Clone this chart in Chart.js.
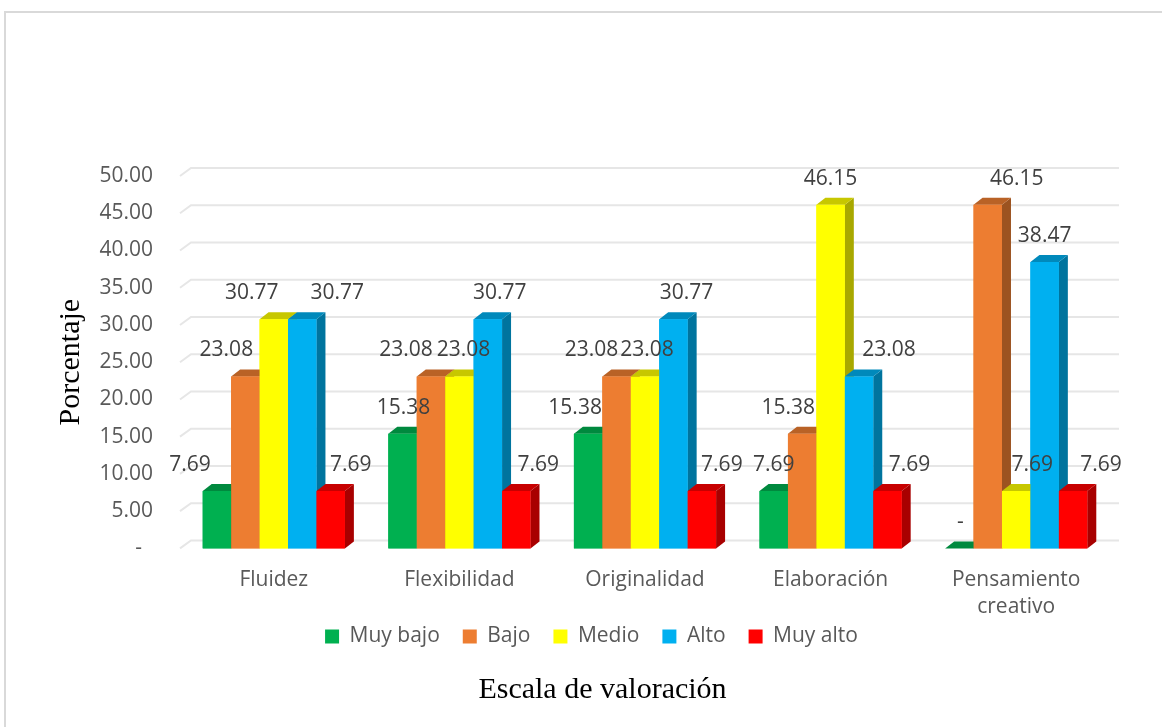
<!DOCTYPE html>
<html>
<head>
<meta charset="utf-8">
<script src="https://cdn.jsdelivr.net/npm/chart.js@4.4.1/dist/chart.umd.min.js"></script>
<style>
  html, body { margin: 0; padding: 0; background: #fff; overflow: hidden; }
  .marco { position: absolute; left: 4px; top: 11px; width: 1180px; height: 740px; border: 2px solid #d9d9d9; }
  #grafico { position: absolute; left: 0; top: 0; }
</style>
</head>
<body>
<div class="marco"></div>
<canvas id="grafico" width="1162" height="727"></canvas>
<script>
// datos
const categorias = ['Fluidez', 'Flexibilidad', 'Originalidad', 'Elaboración', ['Pensamiento', 'creativo']];
const series = ['Muy bajo', 'Bajo', 'Medio', 'Alto', 'Muy alto'];
const muyBajo = [7.69, 15.38, 15.38, 7.69, 0];
const bajo = [23.08, 23.08, 23.08, 15.38, 46.15];
const medio = [30.77, 23.08, 23.08, 46.15, 7.69];
const alto = [30.77, 30.77, 30.77, 23.08, 38.47];
const muyAlto = [7.69, 7.69, 7.69, 7.69, 7.69];
const marcasY = [0, 5, 10, 15, 20, 25, 30, 35, 40, 45, 50];

const colores = ['#00B050', '#ED7D31', '#FFFF00', '#00B0F0', '#FF0000'];
const valores = [muyBajo, bajo, medio, alto, muyAlto];

const PROF_X = 9, PROF_Y = 7;
// corrimiento horizontal de cada etiqueta respecto a su barra (como en el original)
const corrEtiqueta = [
    [-27, 1, -13, 0, 1],
    [-19, -25, -25, -14, 29],
    [-22, 4, 2, 0, 16],
    [35, 12, 13, 30, 0],
    [20, 22, 20, 22, 28]
];

function oscurecer(hex, f) {
    const n = parseInt(hex.slice(1), 16);
    const r = Math.round(((n >> 16) & 255) * f);
    const g = Math.round(((n >> 8) & 255) * f);
    const b = Math.round((n & 255) * f);
    return `rgb(${r}, ${g}, ${b})`;
}

function formato(v) {
    return v === 0 ? '-' : v.toFixed(2);
}

// líneas de división en la pared del fondo
const rejilla = {
    id: 'rejilla',
    beforeDatasetsDraw(chart) {
        const ctx = chart.ctx;
        const ys = chart.scales.y;
        const { left, right } = chart.chartArea;
        ctx.save();
        ctx.strokeStyle = '#e6e6e6';
        ctx.lineWidth = 2;
        ys.ticks.forEach(t => {
            const py = ys.getPixelForValue(t.value);
            ctx.beginPath();
            ctx.moveTo(left - 1, py);
            ctx.lineTo(left + 10, py - 8);
            ctx.lineTo(right + 10, py - 8);
            ctx.stroke();
        });
        ctx.restore();
    }
};

// caras laterales y superiores de las barras + etiquetas
const barras3d = {
    id: 'barras3d',
    afterDatasetsDraw(chart) {
        const ctx = chart.ctx;
        ctx.save();
        chart.data.datasets.forEach((ds, i) => {
            const meta = chart.getDatasetMeta(i);
            meta.data.forEach(bar => {
                const { x, y, base, width } = bar.getProps(['x', 'y', 'base', 'width'], true);
                const l = x - width / 2, r = x + width / 2;
                ctx.fillStyle = oscurecer(ds.backgroundColor, 0.66);
                ctx.beginPath();
                ctx.moveTo(r, y);
                ctx.lineTo(r + PROF_X, y - PROF_Y);
                ctx.lineTo(r + PROF_X, base - PROF_Y);
                ctx.lineTo(r, base);
                ctx.closePath();
                ctx.fill();
                ctx.fillStyle = oscurecer(ds.backgroundColor, 0.78);
                ctx.beginPath();
                ctx.moveTo(l, y);
                ctx.lineTo(l + PROF_X, y - PROF_Y);
                ctx.lineTo(r + PROF_X, y - PROF_Y);
                ctx.lineTo(r, y);
                ctx.closePath();
                ctx.fill();
                bar.draw(ctx);
            });
        });
        ctx.font = '21px "Open Sans"';
        ctx.fillStyle = '#404040';
        ctx.textAlign = 'center';
        ctx.textBaseline = 'middle';
        chart.data.datasets.forEach((ds, i) => {
            chart.getDatasetMeta(i).data.forEach((bar, j) => {
                ctx.fillText(formato(ds.data[j]), bar.x + corrEtiqueta[i][j], bar.y - 26);
            });
        });
        ctx.restore();
    }
};

// la leyenda y el título van más arriba, sobre la segunda línea de las categorías
const reubicar = {
    id: 'reubicar',
    afterLayout(chart) {
        const lg = chart.legend;
        const hl = lg.bottom - lg.top;
        lg.top = 603;
        lg.bottom = lg.top + hl;
        lg.left += 12;
        lg.right += 12;
        const tt = chart.titleBlock;
        const ht = tt.bottom - tt.top;
        tt.top = 672;
        tt.bottom = tt.top + ht;
        tt.left += 46;
    }
};

const ctx = document.getElementById('grafico').getContext('2d');
new Chart(ctx, {
    type: 'bar',
    data: {
        labels: categorias,
        datasets: series.map((nombre, i) => ({
            label: nombre,
            data: valores[i],
            backgroundColor: colores[i],
            borderWidth: 0
        }))
    },
    options: {
        responsive: false,
        animation: false,
        devicePixelRatio: 1,
        layout: { padding: { left: 50, right: 53, top: 176, bottom: 16 } },
        datasets: { bar: { categoryPercentage: 0.766, barPercentage: 1 } },
        scales: {
            x: {
                grid: { display: false, drawTicks: false },
                border: { display: false },
                ticks: {
                    color: '#595959',
                    font: { family: 'Open Sans', size: 21, lineHeight: 1.3 },
                    padding: 18,
                    maxRotation: 0,
                    autoSkip: false
                },
                afterFit: s => { s.height = 72.6; }
            },
            y: {
                min: 0,
                max: 50,
                grid: { display: false, drawTicks: false },
                border: { display: false },
                ticks: {
                    color: '#595959',
                    font: { family: 'Open Sans', size: 21 },
                    padding: 28,
                    callback: v => v === 0 ? '-  ' : v.toFixed(2)
                },
                afterBuildTicks: s => { s.ticks = marcasY.map(v => ({ value: v })); },
                title: {
                    display: true,
                    text: 'Porcentaje',
                    color: '#000',
                    font: { family: 'Liberation Serif', size: 30 },
                    padding: { top: 3, bottom: 3 }
                },
                afterFit: s => { s.width = 131; }
            }
        },
        plugins: {
            legend: {
                position: 'bottom',
                labels: {
                    boxWidth: 14,
                    boxHeight: 14,
                    padding: 23,
                    color: '#595959',
                    font: { family: 'Open Sans', size: 21 }
                }
            },
            title: {
                display: true,
                position: 'bottom',
                text: 'Escala de valoración',
                color: '#000',
                font: { family: 'Liberation Serif', size: 30, weight: 'normal' },
                padding: { top: 0, bottom: 0 }
            },
            tooltip: { enabled: false }
        }
    },
    plugins: [rejilla, barras3d, reubicar]
});
</script>
</body>
</html>
